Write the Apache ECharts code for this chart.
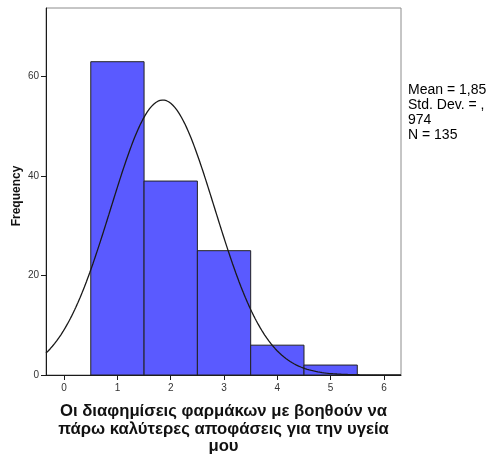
<!DOCTYPE html>
<html>
<head>
<meta charset="utf-8">
<script src="https://cdn.jsdelivr.net/npm/echarts@6/dist/echarts.min.js"></script>
<style>
  html, body { margin: 0; padding: 0; background: #fff; }
  #chart { width: 499px; height: 456px; }
</style>
</head>
<body>
<div id="chart"></div>
<script>
// Histogram of responses (bin centres 1..5) with fitted normal curve
const binCenters = [1, 2, 3, 4, 5];
const frequencies = [63, 39, 25, 6, 2];
const xTickValues = [0, 1, 2, 3, 4, 5, 6];
const yTickValues = [0, 20, 40, 60];
const meanValue = 1.85;
const stdDev = 0.974;
const sampleN = 135;
const statLines = ['Mean = 1,85', 'Std. Dev. = ,', '974', 'N = 135'];
const axisTitle = 'Οι διαφημίσεις φαρμάκων με βοηθούν να\nπάρω καλύτερες αποφάσεις για την υγεία\nμου';

const xMin = -0.34, xMax = 6.32, yMax = 73.8;
const binWidth = 1;

// Normal density scaled to counts: N * binWidth * pdf(x)
const curve = [];
for (let x = xMin; x <= xMax + 1e-9; x += 0.02) {
  const z = (x - meanValue) / stdDev;
  const y = sampleN * binWidth * Math.exp(-0.5 * z * z) / (stdDev * Math.sqrt(2 * Math.PI));
  curve.push([x, y]);
}

const FONT = '"Liberation Sans", Arial, sans-serif';
const chart = echarts.init(document.getElementById('chart'), null, { renderer: 'canvas' });

chart.setOption({
  animation: false,
  grid: {
    left: 46, top: 8, right: 98, bottom: 81,
    outerBoundsMode: 'none', containLabel: false,
    show: true, borderColor: '#8c8c8c', borderWidth: 1, backgroundColor: '#fff'
  },
  xAxis: {
    type: 'value', min: xMin, max: xMax,
    axisLine: { onZero: false, lineStyle: { color: '#1a1a1a', width: 1 } },
    axisTick: { show: true, length: 5, inside: false, customValues: xTickValues,
      lineStyle: { color: '#1a1a1a' } },
    axisLabel: { customValues: xTickValues, color: '#333', fontFamily: FONT, fontSize: 10, margin: 8 },
    splitLine: { show: false },
    name: axisTitle,
    nameLocation: 'middle',
    nameGap: 28,
    nameTextStyle: { fontFamily: FONT, fontSize: 16.7, fontWeight: 'bold', color: '#111',
      lineHeight: 17.5, verticalAlign: 'top', align: 'center' }
  },
  yAxis: {
    type: 'value', min: 0, max: yMax,
    axisLine: { show: true, onZero: false, lineStyle: { color: '#1a1a1a', width: 1 } },
    axisTick: { show: true, length: 5, customValues: yTickValues, lineStyle: { color: '#1a1a1a' } },
    axisLabel: { customValues: yTickValues, color: '#333', fontFamily: FONT, fontSize: 10, margin: 7 },
    splitLine: { show: false }
  },
  series: [
    {
      type: 'custom',
      data: binCenters.map((c, i) => [c, frequencies[i]]),
      renderItem: function (params, api) {
        const c = api.value(0), f = api.value(1);
        const p0 = api.coord([c - binWidth / 2, f]);
        const p1 = api.coord([c + binWidth / 2, 0]);
        return {
          type: 'rect',
          shape: { x: p0[0], y: p0[1], width: p1[0] - p0[0], height: p1[1] - p0[1] },
          style: { fill: '#5a5aff', stroke: '#222', lineWidth: 1 }
        };
      },
      z: 2
    },
    {
      type: 'line',
      data: curve,
      showSymbol: false,
      smooth: false,
      lineStyle: { color: '#1a1a1a', width: 1.3 },
      z: 3
    }
  ],
  graphic: [
    {
      type: 'text', x: 17, y: 196, rotation: Math.PI / 2,
      style: { text: 'Frequency', fontFamily: FONT, fontSize: 12, fontWeight: 'bold', fill: '#111',
        align: 'center', verticalAlign: 'middle' }
    },
    {
      type: 'text', left: 408, top: 83,
      style: { text: statLines.join('\n'), fontFamily: FONT, fontSize: 14, lineHeight: 15, fill: '#000' }
    }
  ]
});
</script>
</body>
</html>
